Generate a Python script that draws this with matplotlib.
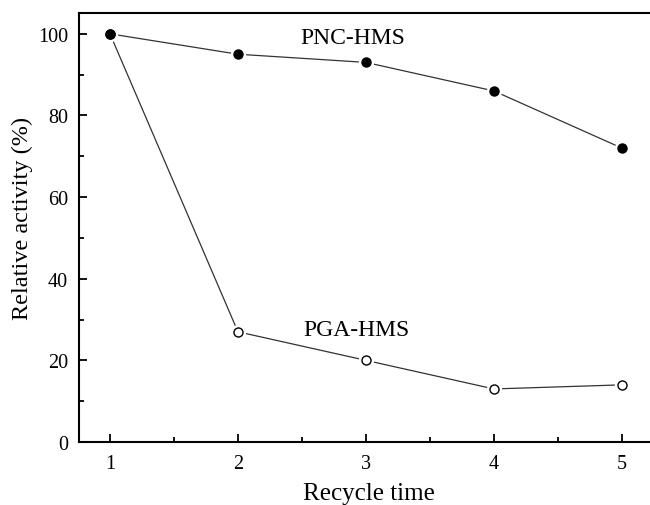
import numpy as np
import matplotlib.pyplot as plt
from matplotlib.ticker import MultipleLocator

plt.rcParams['font.family'] = ['Liberation Serif', 'DejaVu Serif']

# data
cycles = [1, 2, 3, 4, 5]
pnc_hms = [100, 95, 93, 86, 72]
pga_hms = [100, 27, 20, 13, 14]

fig = plt.figure(figsize=(6.5, 5.06), dpi=100)
ax = fig.add_axes([79 / 650, 63 / 506, 580 / 650, 429 / 506])

# PGA first so the filled PNC marker sits on top at cycle 1
for vals, face in [(pga_hms, 'white'), (pnc_hms, 'black')]:
    ax.plot(cycles, vals, color='#333333', lw=0.9, zorder=2)
    # white halo gives the small gap between line and marker
    ax.plot(cycles, vals, ls='none', marker='o', ms=10, mfc='white', mec='white', zorder=3)
    ax.plot(cycles, vals, ls='none', marker='o', ms=6.5, mfc=face, mec='black', mew=1.0, zorder=4)

ax.text(2.9, 99, 'PNC-HMS', fontsize=17, ha='center', va='center')
ax.text(2.93, 27.5, 'PGA-HMS', fontsize=17, ha='center', va='center')

ax.set_xlim(0.758, 5.29)
ax.set_ylim(0, 105.1)
ax.xaxis.set_major_locator(MultipleLocator(1))
ax.xaxis.set_minor_locator(MultipleLocator(0.5))
ax.yaxis.set_major_locator(MultipleLocator(20))
ax.yaxis.set_minor_locator(MultipleLocator(10))
ax.tick_params(which='both', direction='in', labelsize=14.5, width=1.3)
ax.tick_params(which='major', length=6, pad=9)
ax.tick_params(which='minor', length=3.5)
ax.tick_params(axis='y', which='major', pad=8)
for s in ax.spines.values():
    s.set_linewidth(1.5)

ax.set_xlabel('Recycle time', fontsize=18, labelpad=6)
ax.set_ylabel('Relative activity (%)', fontsize=17.5)
ax.yaxis.set_label_coords(-0.08, 0.524)

fig.savefig('out.png', dpi=100)
